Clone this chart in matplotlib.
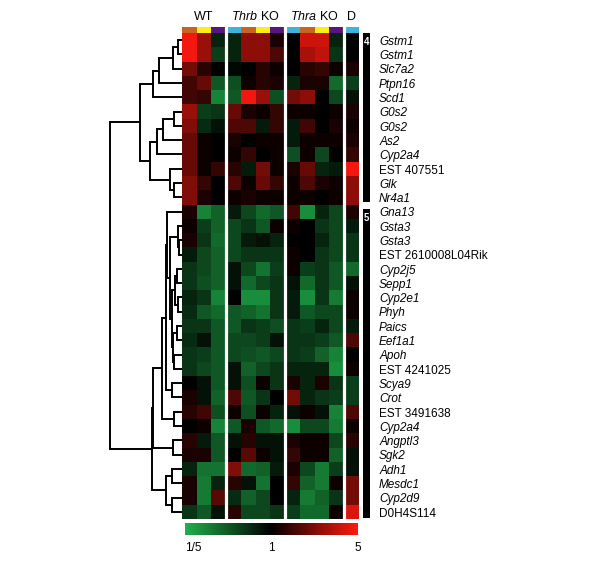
import numpy as np
import matplotlib
matplotlib.use("Agg")
import matplotlib.pyplot as plt
from matplotlib.colors import LinearSegmentedColormap

plt.rcParams['font.family'] = ['Liberation Sans', 'DejaVu Sans']
plt.rcParams['mathtext.fontset'] = 'custom'
plt.rcParams['mathtext.rm'] = 'Liberation Sans'
plt.rcParams['mathtext.it'] = 'Liberation Sans:italic'

# gene rows, top to bottom
genes = ['Gstm1', 'Gstm1', 'Slc7a2', 'Ptpn16', 'Scd1', 'G0s2', 'G0s2', 'As2',
         'Cyp2a4', 'EST 407551', 'Glk', 'Nr4a1',
         'Gna13', 'Gsta3', 'Gsta3', 'EST 2610008L04Rik', 'Cyp2j5', 'Sepp1',
         'Cyp2e1', 'Phyh', 'Paics', 'Eef1a1', 'Apoh', 'EST 4241025', 'Scya9',
         'Crot', 'EST 3491638', 'Cyp2a4', 'Angptl3', 'Sgk2', 'Adh1', 'Mesdc1',
         'Cyp2d9', 'D0H4S114']
clusters = [('4', 12), ('5', 22)]

groups = ['WT', '$\\mathit{Thrb}$ KO', '$\\mathit{Thra}$ KO', 'D']
group_samples = [['orange', 'yellow', 'purple'],
                 ['cyan', 'orange', 'yellow', 'purple'],
                 ['cyan', 'orange', 'yellow', 'purple'],
                 ['cyan']]
sample_colors = {'orange': '#C8641E', 'yellow': '#FFEF10',
                 'purple': '#5A1482', 'cyan': '#3CB4DC'}

# log5 expression ratio (-1 = 1/5, 0 = 1, 1 = 5)
wt_vals = [[0.95, 0.6, -0.2], [0.95, 0.6, -0.35], [0.45, 0.15, 0.0],
           [0.25, 0.4, -0.5], [0.25, 0.2, -0.75], [0.6, -0.35, -0.3],
           [0.5, -0.25, -0.1], [0.4, 0.05, 0.0], [0.4, 0.05, 0.0],
           [0.4, 0.05, 0.2], [0.5, 0.2, 0.0], [0.5, 0.1, 0.0],
           [0.1, -0.75, -0.55], [0.05, -0.35, -0.55], [0.1, -0.3, -0.6],
           [-0.15, -0.4, -0.55], [-0.3, -0.4, -0.55], [-0.3, -0.45, -0.55],
           [-0.2, -0.3, -0.75], [-0.25, -0.5, -0.6], [-0.3, -0.3, -0.5],
           [-0.25, -0.1, -0.5], [-0.3, -0.35, -0.5], [-0.3, -0.4, -0.5],
           [0.0, -0.1, -0.5], [0.1, -0.1, -0.55], [0.15, 0.25, -0.45],
           [0.0, 0.05, -0.75], [0.15, -0.15, -0.5], [0.1, 0.1, -0.5],
           [-0.2, -0.65, -0.65], [0.1, -0.7, -0.2], [0.1, -0.7, 0.35],
           [-0.3, -0.5, -0.1]]
thrb_vals = [[-0.2, 0.55, 0.55, 0.1], [-0.2, 0.55, 0.55, 0.3],
             [-0.05, 0.0, 0.15, 0.05], [-0.45, 0.05, 0.15, 0.1],
             [-0.5, 0.95, 0.6, -0.45], [0.4, 0.1, 0.05, 0.2],
             [0.3, 0.3, -0.15, 0.2], [0.1, 0.0, 0.05, 0.05],
             [0.05, 0.2, 0.0, 0.05], [0.15, -0.15, 0.45, 0.05],
             [0.3, 0.05, 0.4, 0.2], [0.05, 0.1, 0.05, 0.05],
             [-0.15, -0.4, -0.6, -0.5], [-0.4, -0.3, -0.5, 0.05],
             [-0.4, -0.15, -0.1, -0.2], [-0.4, -0.3, -0.3, -0.3],
             [-0.1, -0.4, -0.65, -0.35], [-0.1, -0.6, -0.4, -0.3],
             [0.0, -0.8, -0.8, -0.3], [-0.5, -0.55, -0.65, -0.3],
             [-0.5, -0.3, -0.35, -0.45], [-0.4, -0.4, -0.35, -0.1],
             [-0.4, -0.45, -0.5, -0.4], [-0.1, -0.55, -0.4, -0.3],
             [-0.1, -0.45, 0.05, -0.3], [0.3, -0.5, -0.3, 0.0],
             [0.05, -0.45, 0.05, -0.2], [-0.5, 0.1, -0.5, -0.6],
             [-0.1, 0.15, -0.1, -0.1], [0.0, 0.35, 0.05, -0.1],
             [0.5, -0.6, -0.55, -0.15], [0.15, -0.1, -0.65, 0.0],
             [-0.25, -0.55, -0.4, 0.0], [0.15, -0.4, -0.4, -0.3]]
thra_vals = [[0.0, 0.8, 0.8, -0.2], [0.0, 0.65, 0.75, -0.3],
             [0.0, 0.15, 0.2, 0.05], [-0.2, 0.1, 0.1, -0.6],
             [0.45, 0.55, 0.0, -0.4], [0.05, 0.05, 0.0, 0.05],
             [-0.15, 0.25, 0.0, 0.1], [-0.15, 0.05, 0.05, 0.05],
             [-0.45, 0.05, -0.4, 0.0], [0.1, 0.4, -0.2, -0.15],
             [0.05, 0.3, 0.1, 0.05], [0.05, 0.05, 0.0, 0.05],
             [0.25, -0.8, -0.2, -0.4], [0.05, 0.0, -0.3, -0.4],
             [0.0, 0.0, -0.2, -0.4], [0.05, 0.0, -0.3, -0.4],
             [0.05, -0.35, -0.3, -0.5], [-0.1, -0.6, -0.3, -0.5],
             [-0.15, -0.8, -0.3, -0.7], [-0.15, -0.5, -0.4, -0.4],
             [-0.3, -0.35, -0.2, -0.4], [-0.3, -0.3, -0.35, -0.5],
             [-0.3, -0.35, -0.55, -0.75], [-0.2, -0.2, -0.2, -0.8],
             [0.1, -0.2, 0.1, -0.3], [0.45, -0.2, -0.3, -0.35],
             [-0.1, 0.05, -0.1, -0.75], [-0.8, -0.4, -0.4, -0.7],
             [0.1, 0.05, 0.05, -0.4], [0.2, 0.05, 0.05, -0.55],
             [0.1, -0.4, -0.7, -0.35], [0.2, -0.55, -0.7, 0.05],
             [-0.2, -0.7, -0.55, -0.3], [-0.35, -0.6, -0.6, 0.05]]
d_vals = [0.0, 0.0, 0.1, -0.35, -0.1, 0.1, 0.05, 0.1, 0.2, 0.95, 0.55, 0.55,
          0.1, -0.15, -0.3, -0.3, -0.6, -0.1, 0.05, 0.05, -0.15, 0.3, 0.0,
          0.05, -0.35, -0.35, 0.3, 0.05, 0.15, -0.1, -0.1, 0.45, 0.45, 0.85]

# row dendrogram: (left, right, height); leaves 0..33, merged nodes 34..
linkage = [(0, 1, 0.05), (34, 2, 0.12), (35, 3, 0.315), (36, 4, 0.398),
           (5, 6, 0.111), (38, 7, 0.259), (39, 8, 0.352), (10, 11, 0.111),
           (9, 41, 0.167), (40, 42, 0.444), (37, 43, 0.583),
           (14, 15, 0.037), (13, 45, 0.05), (16, 17, 0.074), (18, 19, 0.05),
           (47, 48, 0.093), (20, 21, 0.065), (22, 23, 0.111), (50, 51, 0.12),
           (49, 52, 0.144), (46, 53, 0.167), (12, 54, 0.213), (24, 25, 0.144),
           (55, 56, 0.227), (26, 27, 0.111), (57, 58, 0.282), (28, 29, 0.12),
           (59, 60, 0.398), (30, 31, 0.144), (32, 33, 0.144), (62, 63, 0.227),
           (61, 64, 0.421), (44, 65, 1.0)]

W, H = 600, 562
fig = plt.figure(figsize=(W / 100, H / 100), dpi=100)


def px_axes(x0, y0, x1, y1):
    return fig.add_axes([x0 / W, 1 - y1 / H, (x1 - x0) / W, (y1 - y0) / H])


cmap = LinearSegmentedColormap.from_list(
    'gkr', ['#1FB04A', '#000000', '#FF1A10'])

data = np.hstack([np.array(wt_vals), np.array(thrb_vals),
                  np.array(thra_vals), np.array(d_vals)[:, None]])
n_rows, n_cols = data.shape
bounds = np.cumsum([len(g) for g in group_samples])[:-1] - 0.5

# heatmap
ax = px_axes(182, 33, 359, 519)
ax.imshow(data, cmap=cmap, vmin=-1, vmax=1, aspect='auto',
          interpolation='nearest')
for b in bounds:
    ax.axvline(b, color='white', lw=2.3)
ax.axis('off')

# sample colour strip + group titles
ax_h = px_axes(182, 27, 359, 33)
strip = [[matplotlib.colors.to_rgb(sample_colors[s])
          for g in group_samples for s in g]]
ax_h.imshow(strip, aspect='auto', interpolation='nearest')
for b in bounds:
    ax_h.axvline(b, color='white', lw=2.3)
ax_h.axis('off')
start = 0
for name, g in zip(groups, group_samples):
    mid = start + (len(g) - 1) / 2
    ax_h.text(mid, 2.7, name, transform=ax_h.get_xaxis_transform(),
              ha='center', va='center', fontsize=9)
    start += len(g)

# dendrogram
ax_d = px_axes(108, 33, 182, 519)
pos = {i: (float(i), 0.0) for i in range(n_rows)}
for k, (a, b, h) in enumerate(linkage):
    ya, ha = pos[a]
    yb, hb = pos[b]
    ax_d.plot([ha, h, h, hb], [ya, ya, yb, yb], color='black', lw=1.4,
              solid_joinstyle='miter')
    pos[n_rows + k] = ((ya + yb) / 2, h)
ax_d.set_xlim(1.028, 0)
ax_d.set_ylim(n_rows - 0.5, -0.5)
ax_d.axis('off')

# cluster bars + gene labels
ax_c = px_axes(363, 33, 370, 519)
top = -0.5
for label, n in clusters:
    y0 = top + (0.3 if top > 0 else 0.0)
    y1 = top + n - (0.15 if top < 0 else 0.05)
    ax_c.bar(0.5, y1 - y0, bottom=y0, width=1.0, color='black')
    ax_c.text(0.5, y0 + 0.65, label, color='white', fontsize=7,
              fontweight='bold', ha='center', va='center')
    top += n
ax_c.set_xlim(0, 1)
ax_c.set_ylim(n_rows - 0.5, -0.5)
ax_c.axis('off')
for i, g in enumerate(genes):
    plain = g.startswith('EST') or g == 'D0H4S114'
    ax_c.text(2.3, i + 0.12, g, transform=ax_c.get_yaxis_transform(),
              ha='left', va='center', fontsize=8.5,
              style='normal' if plain else 'italic')

# colour scale
ax_cb = px_axes(185, 523, 358, 535)
ax_cb.imshow(np.linspace(-1, 1, 256)[None, :], cmap=cmap, aspect='auto',
             extent=(-1, 1, 0, 1))
ax_cb.axis('off')
ax_cb.text(0.0, -1.1, '1/5', transform=ax_cb.transAxes, ha='left',
           va='center', fontsize=8.5)
ax_cb.text(0.5, -1.1, '1', transform=ax_cb.transAxes, ha='center',
           va='center', fontsize=8.5)
ax_cb.text(1.0, -1.1, '5', transform=ax_cb.transAxes, ha='center',
           va='center', fontsize=8.5)

fig.savefig('out.png', dpi=100)
